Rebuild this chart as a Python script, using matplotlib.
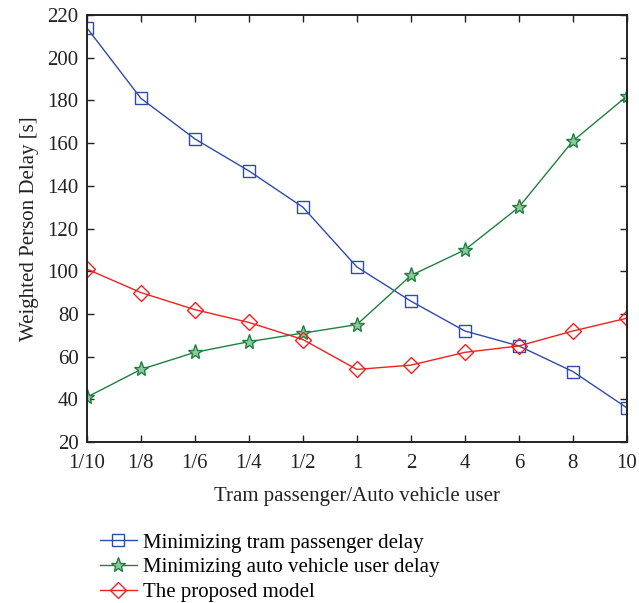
import numpy as np
import matplotlib
matplotlib.use("Agg")
import matplotlib.pyplot as plt

plt.rcParams['font.family'] = ['Liberation Serif', 'DejaVu Serif']

# ratio categories (tram passenger / auto vehicle user)
ratios = ['1/10', '1/8', '1/6', '1/4', '1/2', '1', '2', '4', '6', '8', '10']

# weighted person delay [s]
tram_min = [214, 181, 162, 147, 130, 102, 86, 72, 65, 53, 36]
auto_min = [41, 54, 62, 67, 71, 75, 98, 110, 130, 161, 182]
proposed = [101, 90, 82, 76, 68, 54, 56, 62, 65, 72, 78]

yticks = [20, 40, 60, 80, 100, 120, 140, 160, 180, 200, 220]

fig = plt.figure(figsize=(6.39, 6.03), dpi=100)
ax = fig.add_axes([0.136, 0.267, 0.845, 0.708])

x = np.arange(len(ratios))
ax.plot(x, tram_min, '-s', color='#2E4BA8', mfc='none', ms=8, mew=1.0, lw=1.0,
        label='Minimizing tram passenger delay')
ax.plot(x, auto_min, '-*', color='#1E8040', mfc='#8FC79C', ms=11, mew=1.0, lw=1.0,
        label='Minimizing auto vehicle user delay')
ax.plot(x, proposed, '-D', color='#F02020', mfc='none', ms=8, mew=1.0, lw=1.0,
        label='The proposed model')

ax.set_xlim(0, len(ratios) - 1)
ax.set_ylim(20, 220)
ax.set_xticks(x)
ax.set_xticklabels(ratios)
ax.set_yticks(yticks)
ax.tick_params(direction='in', top=True, right=True, labelsize=15,
               length=5, width=1.0, colors='#222222')
ax.tick_params(axis='x', pad=9)
ax.tick_params(axis='y', pad=6)
for s in ax.spines.values():
    s.set_linewidth(1.4)
    s.set_color('#222222')

ax.set_xlabel('Tram passenger/Auto vehicle user', fontsize=15, color='#222222', labelpad=10)
ax.set_ylabel('Weighted Person Delay [s]', fontsize=15, color='#222222', labelpad=6)

fig.legend(loc='upper left', bbox_to_anchor=(0.156, 0.116), frameon=False,
           fontsize=15, handlelength=1.8, handletextpad=0.3, labelspacing=0.25,
           borderaxespad=0, borderpad=0)

fig.savefig('out.png', dpi=100)
